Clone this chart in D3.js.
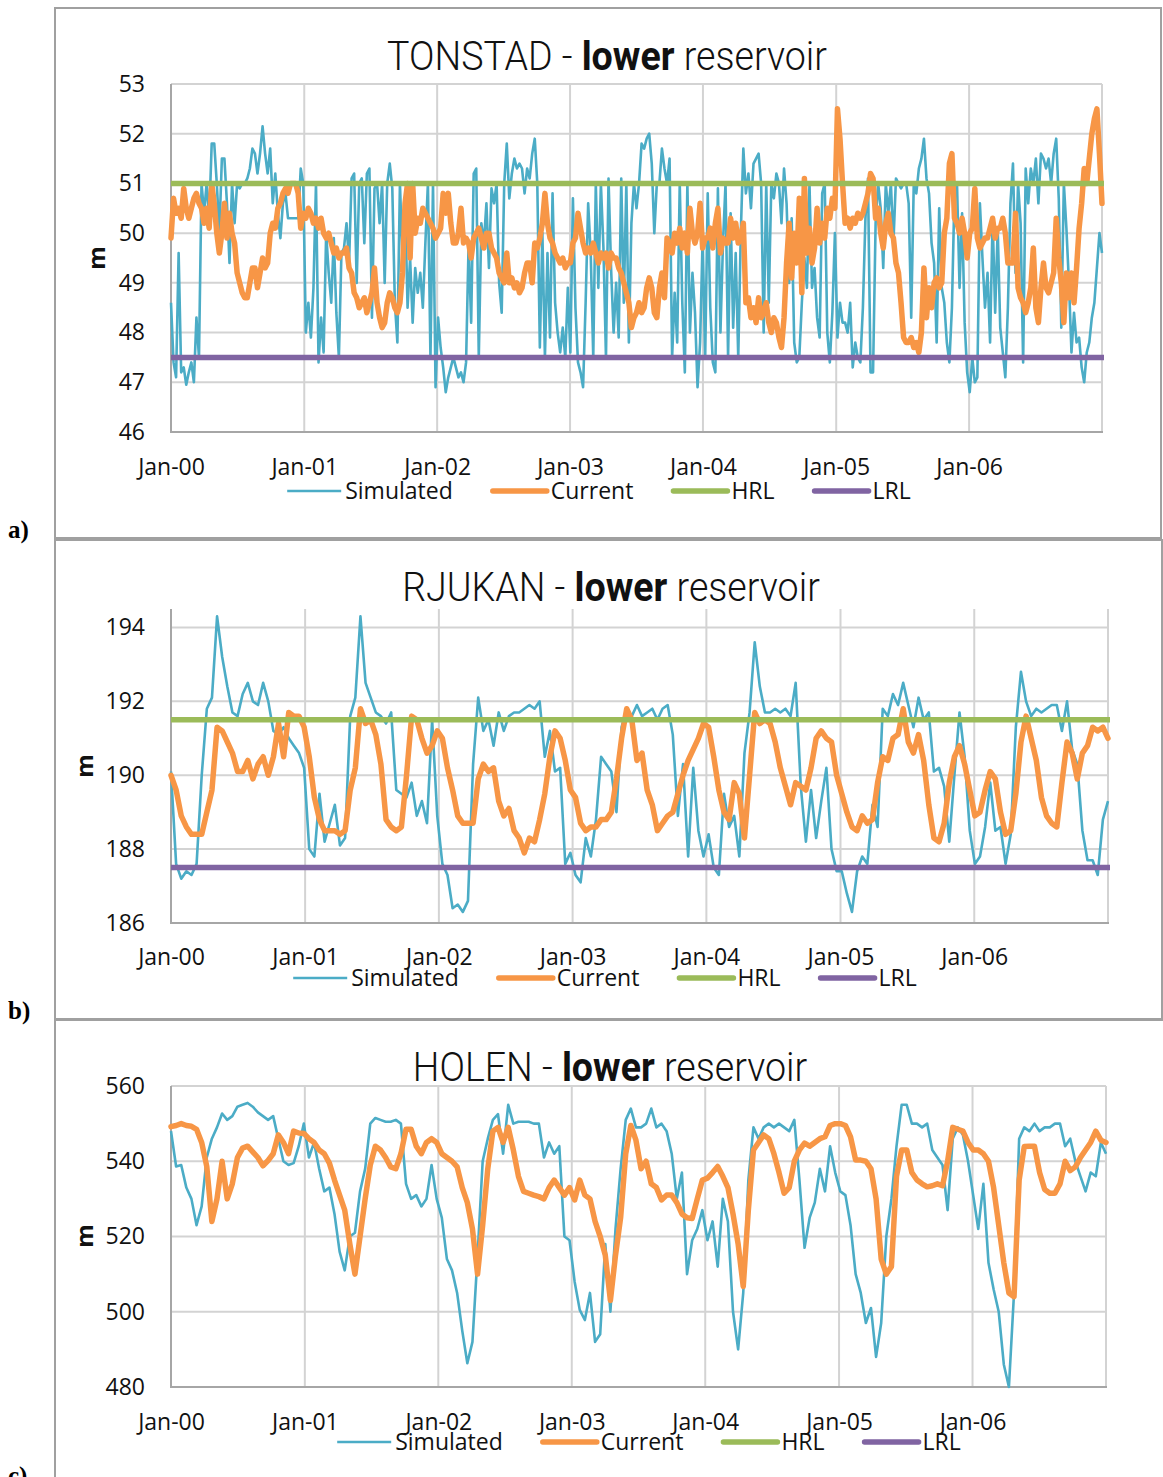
<!DOCTYPE html>
<html>
<head>
<meta charset="utf-8">
<script src="https://cdn.jsdelivr.net/npm/d3@7"></script>
<style>
  body { margin: 0; background: #fff; }
  svg { display: block; }
</style>
</head>
<body>
<svg id="chart" width="1163" height="1477"></svg>
<script>
// ---- data (levels in m, series span Jan-2000 .. Jan-2007) ----
const reservoirNames = ["TONSTAD", "RJUKAN", "HOLEN"];
const legendLabels = ["Simulated", "Current", "HRL", "LRL"];
const hrlLevels = [51, 191.5, null];
const lrlLevels = [47.5, 187.5, null];
const tonstadTicks = [46, 47, 48, 49, 50, 51, 52, 53];
const rjukanTicks = [186, 188, 190, 192, 194];
const holenTicks = [480, 500, 520, 540, 560];
const yearTicks = [2000, 2001, 2002, 2003, 2004, 2005, 2006];

// weekly values
const tonstadSim = [
  48.6,47.4,47.1,49.6,47.2,47.3,46.95,47.2,47.4,47.0,
  48.3,47.5,51.0,50.4,51.0,50.3,51.8,51.8,51.0,50.0,
  51.5,51.5,50.6,49.4,51.0,50.2,51.0,50.9,51.0,51.0,
  51.1,51.3,51.7,51.6,51.2,51.6,52.15,51.6,51.2,51.7,
  50.6,51.2,50.4,49.9,50.6,50.8,50.3,50.3,50.3,50.3,
  50.3,51.3,51.0,48.0,48.6,47.9,48.9,51.0,47.4,48.3,
  47.6,50.0,49.2,48.6,49.9,48.4,47.5,49.6,49.7,50.2,
  49.4,51.1,51.2,49.0,51.0,51.1,49.8,51.2,51.3,48.3,
  50.9,51.0,50.2,51.0,49.0,51.0,51.4,50.9,48.6,47.8,
  51.0,49.5,50.7,48.5,49.5,48.2,49.3,48.8,49.2,48.5,
  49.8,51.0,47.5,51.0,46.9,48.3,47.7,47.3,46.8,47.1,
  47.3,47.5,47.3,47.1,47.2,47.0,47.4,49.8,48.2,51.2,
  51.3,47.5,50.2,49.8,50.6,49.3,50.9,50.6,51.0,49.0,
  48.4,51.0,51.8,50.7,51.2,51.5,51.3,51.4,51.3,50.8,
  51.3,51.1,51.6,51.9,51.0,47.7,50.0,47.5,49.6,47.9,
  50.8,48.6,48.0,47.6,48.1,47.5,48.9,47.6,50.7,48.5,
  47.4,47.2,46.9,48.6,50.6,49.6,47.5,51.0,48.9,51.0,
  49.7,47.5,51.1,49.3,48.0,49.0,47.9,51.1,48.6,51.0,
  47.8,50.2,51.0,50.5,51.0,51.8,51.7,51.9,52.0,51.4,
  50.0,51.0,51.0,51.7,51.3,51.0,51.5,47.5,48.8,47.8,
  51.0,48.6,47.2,51.0,48.0,49.2,48.4,46.9,47.8,49.9,
  47.5,50.8,48.5,47.4,47.2,50.9,48.0,49.8,51.0,47.5,
  50.4,48.1,49.6,47.5,50.0,51.7,50.8,51.2,50.5,51.4,
  51.5,51.6,51.0,48.0,51.0,48.6,51.0,50.7,51.2,51.0,
  50.2,51.3,50.6,49.0,50.3,47.8,47.4,47.5,48.6,49.5,
  48.9,51.0,48.9,49.3,48.3,47.9,50.8,51.0,48.0,47.4,
  48.4,50.0,47.9,48.6,48.2,48.2,48.0,48.6,47.3,47.8,
  47.5,47.4,48.5,50.3,51.1,47.2,47.2,50.2,51.0,50.5,
  49.3,51.0,50.4,51.0,49.8,51.1,51.0,50.9,51.0,51.0,
  50.6,48.3,51.0,50.8,51.3,51.5,51.9,51.1,50.8,49.8,
  49.4,47.8,50.5,48.9,48.6,47.8,47.4,48.5,50.8,51.0,
  48.9,50.4,48.2,47.2,46.8,47.5,47.0,47.1,50.6,49.5,
  48.5,49.2,47.8,50.3,48.4,50.1,48.1,47.6,47.1,48.5,
  50.6,51.4,49.2,51.0,50.2,47.4,51.3,50.6,51.3,51.0,
  51.5,50.6,51.6,51.5,51.3,51.5,51.0,51.6,51.9,50.7,
  48.1,51.0,50.1,49.0,47.6,48.4,47.8,47.9,47.3,47.0,
  47.6,47.8,48.3,48.6,49.3,50.0,49.6
];
const tonstadCur = [
  49.9,50.7,50.4,50.5,50.3,50.9,50.5,50.3,50.5,50.7,
  50.8,50.6,50.5,50.2,50.5,50.1,51.0,50.6,50.0,49.6,
  50.0,50.6,49.9,50.4,50.0,49.8,49.2,49.0,48.8,48.7,
  48.7,49.0,49.3,49.3,48.9,49.2,49.5,49.3,49.4,50.0,
  50.2,50.1,50.5,50.6,50.8,50.9,50.8,51.0,51.0,51.0,
  50.8,50.1,50.4,50.3,50.5,50.4,50.2,50.3,50.1,50.3,
  50.0,49.9,50.0,49.8,49.6,49.7,49.5,49.6,49.6,49.7,
  49.3,49.2,48.8,48.7,48.5,48.6,48.7,48.4,48.6,48.8,
  49.3,48.6,48.3,48.1,48.2,48.6,48.8,48.7,48.5,48.4,
  48.6,49.2,50.6,51.0,49.5,51.0,50.0,50.3,50.2,50.5,
  50.4,50.3,50.2,50.1,49.9,50.0,50.1,50.8,50.4,50.8,
  50.2,49.8,49.8,50.0,50.5,49.8,49.9,49.8,49.5,49.9,
  50.0,50.1,49.9,49.7,50.0,50.0,49.7,49.6,49.5,49.2,
  49.1,49.0,49.6,49.0,49.1,48.9,49.0,48.8,48.9,49.2,
  49.4,49.4,49.0,49.8,49.7,49.9,50.2,50.8,50.2,49.9,
  49.8,49.6,49.5,49.4,49.5,49.3,49.4,49.4,49.8,49.9,
  50.4,50.1,49.8,49.6,49.7,49.6,49.8,49.6,49.4,49.6,
  49.5,49.6,49.3,49.6,49.5,49.5,49.3,49.2,49.0,48.8,
  48.6,48.1,48.3,48.4,48.6,48.4,48.5,48.9,49.1,48.9,
  48.4,48.3,48.9,49.2,48.7,49.9,49.8,49.6,50.0,49.8,
  50.1,49.7,50.0,49.6,50.5,50.0,49.8,50.0,50.6,49.7,
  49.9,49.9,50.1,49.7,50.2,50.5,49.6,49.9,49.8,49.8,
  50.3,49.9,50.2,49.8,49.9,50.2,48.6,48.7,48.3,48.5,
  48.2,48.7,48.3,48.4,48.6,48.2,48.0,48.3,48.2,47.9,
  47.7,48.3,49.4,50.2,49.1,50.0,49.4,50.7,48.8,51.1,
  49.6,50.1,49.4,49.7,50.5,49.8,50.2,49.9,50.5,50.3,
  50.7,50.5,52.5,51.9,51.0,50.2,50.3,50.1,50.3,50.2,
  50.4,50.3,50.4,50.6,50.8,51.2,51.1,50.3,50.5,50.0,
  49.7,50.2,50.4,50.0,49.9,49.4,49.2,48.6,47.9,47.8,
  47.8,47.9,47.7,47.8,47.6,48.0,49.3,48.3,48.9,48.5,
  49.0,49.1,48.9,49.0,50.0,50.3,51.4,51.6,50.3,50.2,
  50.0,50.3,50.0,49.5,50.0,50.1,50.9,49.9,49.7,49.8,
  49.9,49.9,50.1,50.3,49.9,50.1,50.1,50.3,50.0,49.4,
  49.4,49.4,50.4,48.9,48.7,48.6,48.4,48.6,48.9,49.7,
  48.5,48.2,48.9,49.4,48.9,48.8,49.0,49.2,50.3,49.5,
  49.0,48.2,49.2,48.7,49.2,48.6,49.3,50.1,50.6,51.3,
  51.0,51.5,52.0,52.3,52.5,51.6,50.6
];

// fortnightly values
const rjukanSim = [
  190.1,187.6,187.2,187.4,187.3,187.6,190.0,191.8,192.1,194.3,
  193.2,192.4,191.7,191.6,192.2,192.5,192.0,191.9,192.5,192.0,
  191.2,191.1,191.3,191.0,190.8,190.6,190.2,188.0,187.8,189.5,
  188.2,188.7,189.2,188.1,188.3,191.6,192.1,194.3,192.5,192.1,
  191.7,191.6,191.4,191.7,189.6,189.5,189.4,189.8,188.9,189.3,
  188.7,191.5,188.9,187.6,187.3,186.4,186.5,186.3,186.6,190.3,
  192.1,191.2,191.5,190.8,191.7,191.2,191.6,191.7,191.7,191.8,
  191.9,191.8,192.0,190.5,191.2,190.1,190.2,187.6,187.9,187.3,
  187.1,188.3,187.8,188.8,190.5,190.3,190.1,189.0,191.3,191.8,
  191.6,191.9,191.6,191.7,191.8,191.5,191.8,191.9,191.1,188.9,
  190.3,187.8,190.2,188.5,187.8,188.4,187.5,187.3,189.5,188.6,
  188.9,187.8,190.6,191.7,193.6,192.4,191.7,191.7,191.8,191.7,
  191.8,191.6,192.5,189.7,188.2,189.6,188.3,189.3,190.2,188.0,
  187.4,187.4,186.8,186.3,187.4,187.8,187.6,189.2,188.6,191.8,
  191.6,192.2,191.9,192.5,191.9,191.3,192.1,191.5,191.7,190.1,
  190.2,189.7,188.2,190.0,191.7,190.5,188.5,187.6,187.8,188.6,
  189.8,188.5,188.6,187.6,188.4,191.3,192.8,192.0,191.6,191.8,
  191.7,191.8,191.9,191.9,191.2,192.0,190.7,190.3,188.5,187.7,
  187.7,187.3,188.8,189.3
];
const rjukanCur = [
  190.0,189.6,188.9,188.6,188.4,188.4,188.4,189.0,189.6,191.3,
  191.2,190.9,190.6,190.1,190.1,190.4,189.9,190.3,190.5,190.0,
  190.5,191.4,190.5,191.7,191.6,191.6,191.3,190.5,189.4,188.8,
  188.5,188.5,188.5,188.4,188.5,189.6,190.2,191.8,191.4,191.5,
  191.1,190.3,188.8,188.6,188.5,188.6,190.0,191.6,191.5,191.0,
  190.6,190.8,191.2,191.0,190.2,189.6,188.9,188.7,188.7,188.7,
  189.9,190.3,190.1,190.2,189.3,188.9,189.1,188.5,188.3,187.9,
  188.3,188.2,188.8,189.5,190.5,191.2,191.0,190.4,189.6,189.4,
  188.7,188.5,188.6,188.6,188.8,188.8,189.0,189.9,191.0,191.8,
  191.5,190.4,190.6,189.6,189.2,188.5,188.7,188.9,189.0,189.5,
  190.0,190.4,190.7,191.0,191.4,191.3,190.5,189.6,189.0,188.8,
  189.8,189.5,188.3,190.0,191.7,191.4,191.5,191.4,190.9,190.2,
  189.7,189.2,189.8,189.7,189.6,190.2,191.0,191.2,191.0,190.9,
  190.0,189.5,189.0,188.6,188.5,188.9,188.7,188.8,189.8,190.5,
  190.4,191.0,191.1,191.8,190.9,190.6,191.1,190.4,189.2,188.3,
  188.2,188.7,189.8,190.5,190.8,190.3,189.6,188.9,189.0,189.6,
  190.1,189.9,189.0,188.4,188.5,189.5,190.9,191.6,191.0,190.4,
  189.4,188.9,188.7,188.6,189.8,190.9,190.6,189.9,190.6,190.8,
  191.3,191.2,191.3,191.0
];
const holenSim = [
  548,538.6,539,533,530,523,528,541,546,549,
  552.7,551,552,554.5,555,555.5,554.5,553,552,551,
  552,546,540,539,539.5,544,550,541,545,538,
  532,533,526,516,511,520,521,532,538,550,
  551.5,551,550.5,550.5,551,550,534,530,531,528,
  530,539,530,525,514,511,505,495,486.3,492,
  515,540,546,551,552.5,542,555,550,550.5,550.5,
  550.5,550,550,541,545,542,544,520,519,508,
  500.5,497.8,505,492,494,518,500,522,538,551,
  554,549,549,550,554,549,550,548,542,530,
  537,510,519,522,527,519,524,512,530,524,
  500,490,505,535,549,546,549,550,549,550,
  549,548,551,535,517,525,529,538,532,544,
  537,532,531,523,510,505,497,501,488,497,
  520,530,544,555,555,550,550,549,550,543,
  541,539,527,546,549,547,540,531,522,534,
  513,506,500,486,480,505,546,549,548,550,
  548,549,549,550,550,544,546,540,536,532,
  537,536,545,542
];
const holenCur = [
  549.2,549.5,550,549.5,549.3,548.5,545,538.6,524,530,
  540,530,534,541,543.5,544,542.5,541,538.8,540.2,
  542,547,545,542,548,547.5,547.4,546,545,543,
  542,539.5,535,531,527,518,510,520,530,539,
  544,543,541,538.5,538,542,548.5,548.5,544,542,
  545,546,545,542,541,540,538.5,533,529,522,
  510,523,538,548,549,545,549,543,536,532,
  531.5,531,530.6,530,533,535,533,531,533,529.7,
  535,531,530,524,520,515,503,515,525,542,
  549.5,545.6,538,540,534,533,529.7,531,531,529,
  526,525,524.8,530,535,535.5,537,538.6,536,533,
  526,518,506.7,527,543,545,547,546,542,537,
  531.5,533,540,543,544.8,544,545,546,546.5,549.5,
  550,550,549.5,546.5,540.3,540.3,540,538,530,514,
  510,512,536,543,543,537,535,534,533.2,533.5,
  534,533.5,540,549,548.5,548,545,543,543,542,
  540,533,523,513,505,504,535,543.9,544,544,
  537,532.5,531.5,531.5,534,540,537.5,538.5,541,543,
  545,548,545.6,545
];

// ---- layout ----
const W = 1163, H = 1477;
const colors = { sim: "#4bacc6", cur: "#f79646", hrl: "#9bbb59", lrl: "#8064a2" };
const gridColor = "#d3d3d3", axisColor = "#a6a6a6", frameColor = "#a0a0a0";
const labelFont = "'Open Sans', sans-serif";

const panels = [
  { tag: "a)", tagY: 538, x0: 171, x1: 1102, yTop: 84, yBot: 432, yDomain: [46, 53], ticks: tonstadTicks,
    sim: tonstadSim, cur: tonstadCur, titleX: 607, titleY: 70, tickY: 475, legY: 491, legC: 599, mX: 97, mY: 258 },
  { tag: "b)", tagY: 1019, x0: 171, x1: 1108, yTop: 609, yBot: 923, yDomain: [186, 194.5], ticks: rjukanTicks,
    sim: rjukanSim, cur: rjukanCur, titleX: 611, titleY: 601, tickY: 965, legY: 978, legC: 605, mX: 85, mY: 766 },
  { tag: "c)", tagY: 1484, x0: 171, x1: 1106, yTop: 1086, yBot: 1387, yDomain: [480, 560], ticks: holenTicks,
    sim: holenSim, cur: holenCur, titleX: 610, titleY: 1081, tickY: 1430, legY: 1442, legC: 649, mX: 85, mY: 1236 }
];
panels.forEach((p, k) => { p.name = reservoirNames[k]; p.hrl = hrlLevels[k]; p.lrl = lrlLevels[k]; });

const svg = d3.select("#chart");
svg.append("rect").attr("width", W).attr("height", H).attr("fill", "#fff");

// frames round the three panels
svg.append("rect").attr("x", 55).attr("y", 8).attr("width", 1106).attr("height", 530)
  .attr("fill", "none").attr("stroke", frameColor).attr("stroke-width", 2);
svg.append("rect").attr("x", 55).attr("y", 540).attr("width", 1107).attr("height", 479)
  .attr("fill", "none").attr("stroke", frameColor).attr("stroke-width", 2);
svg.append("path").attr("d", "M55,1478V1020H1163")
  .attr("fill", "none").attr("stroke", frameColor).attr("stroke-width", 2);

const start = new Date(Date.UTC(2000, 0, 1)), end = new Date(Date.UTC(2007, 0, 1));
const dateAt = (i, n) => new Date(+start + (end - start) * i / (n - 1));
const fmt = d3.utcFormat("%b-%y");
const titleScale = { v: null };

panels.forEach(p => {
  const g = svg.append("g");
  const x = d3.scaleUtc().domain([start, end]).range([p.x0, p.x1]);
  const y = d3.scaleLinear().domain(p.yDomain).range([p.yBot, p.yTop]);
  const yearDates = yearTicks.map(yr => new Date(Date.UTC(yr, 0, 1)));

  // grid
  g.append("g").selectAll("line").data(p.ticks).join("line")
    .attr("x1", p.x0).attr("x2", p.x1).attr("y1", d => y(d)).attr("y2", d => y(d))
    .attr("stroke", gridColor).attr("stroke-width", 2);
  g.append("g").selectAll("line").data(yearDates.concat([end])).join("line")
    .attr("x1", d => x(d)).attr("x2", d => x(d)).attr("y1", p.yTop).attr("y2", p.yBot)
    .attr("stroke", gridColor).attr("stroke-width", 2);
  // axis lines
  g.append("line").attr("x1", p.x0).attr("x2", p.x0).attr("y1", p.yTop).attr("y2", p.yBot + 1)
    .attr("stroke", axisColor).attr("stroke-width", 2);
  g.append("line").attr("x1", p.x0).attr("x2", p.x1 + 1).attr("y1", p.yBot).attr("y2", p.yBot)
    .attr("stroke", axisColor).attr("stroke-width", 2);

  // y axis labels
  const ya = g.append("g").attr("transform", `translate(${p.x0},0)`)
    .call(d3.axisLeft(y).tickValues(p.ticks).tickSize(0).tickPadding(p.x0 - 145).tickFormat(d3.format("d")));
  ya.select(".domain").remove();
  ya.selectAll("text").attr("font-family", labelFont).attr("font-size", 23).attr("fill", "#111");

  // x axis labels
  const xa = g.append("g").attr("transform", `translate(0,${p.tickY})`)
    .call(d3.axisBottom(x).tickValues(yearDates).tickSize(0).tickFormat(fmt));
  xa.select(".domain").remove();
  xa.selectAll("text").attr("y", 0).attr("dy", 0)
    .attr("font-family", labelFont).attr("font-size", 23).attr("fill", "#111");

  // series
  const line = data => d3.line().x((d, i) => x(dateAt(i, data.length))).y(d => y(d))(data);
  g.append("path").attr("d", line(p.sim)).attr("fill", "none").attr("stroke", colors.sim)
    .attr("stroke-width", 2.6).attr("stroke-linejoin", "round");
  g.append("path").attr("d", line(p.cur)).attr("fill", "none").attr("stroke", colors.cur)
    .attr("stroke-width", 5.5).attr("stroke-linejoin", "round").attr("stroke-linecap", "round");
  [["hrl", p.hrl], ["lrl", p.lrl]].forEach(([key, lvl]) => {
    if (lvl == null) return;
    g.append("line").attr("x1", p.x0).attr("x2", p.x1 + 2).attr("y1", y(lvl)).attr("y2", y(lvl))
      .attr("stroke", colors[key]).attr("stroke-width", 5.5);
  });

  // legend
  const keys = ["sim", "cur", "hrl", "lrl"];
  const lg = g.append("g");
  const items = legendLabels.map((lab, k) => {
    const t = lg.append("text").text(lab).attr("font-family", labelFont).attr("font-size", 23).attr("fill", "#111");
    return { t, w: t.node().getComputedTextLength(), key: keys[k] };
  });
  const total = d3.sum(items, d => 58 + d.w) + 40 * (items.length - 1);
  let lx = p.legC - total / 2;
  items.forEach(it => {
    lg.append("line").attr("x1", lx).attr("x2", lx + 54).attr("y1", p.legY).attr("y2", p.legY)
      .attr("stroke", colors[it.key]).attr("stroke-width", it.key === "sim" ? 2.6 : 5.5)
      .attr("stroke-linecap", it.key === "sim" ? "butt" : "round");
    it.t.attr("x", lx + 58).attr("y", p.legY + 8);
    lx += 58 + it.w + 40;
  });

  // axis title
  g.append("text").text("m").attr("transform", `translate(${p.mX},${p.mY}) rotate(-90)`)
    .attr("text-anchor", "middle").attr("dy", "0.35em")
    .attr("font-family", labelFont).attr("font-weight", 700).attr("font-size", 24).attr("fill", "#111");

  // chart title
  const tt = g.append("text").attr("font-family", "Roboto, sans-serif").attr("font-size", 41)
    .attr("font-weight", 300).attr("fill", "#111").attr("text-anchor", "middle")
    .attr("x", p.titleX).attr("y", p.titleY);
  tt.append("tspan").text(p.name + " - ");
  tt.append("tspan").text("lower").attr("font-weight", 700);
  tt.append("tspan").text(" reservoir");
  if (titleScale.v == null) titleScale.v = 440 / tt.node().getComputedTextLength();
  tt.attr("transform", `translate(${p.titleX},0) scale(${titleScale.v},1) translate(${-p.titleX},0)`);

  // panel tag
  svg.append("text").text(p.tag).attr("x", 8).attr("y", p.tagY)
    .attr("font-family", "'Liberation Serif', serif").attr("font-weight", 700).attr("font-size", 25).attr("fill", "#000");
});
</script>
</body>
</html>
